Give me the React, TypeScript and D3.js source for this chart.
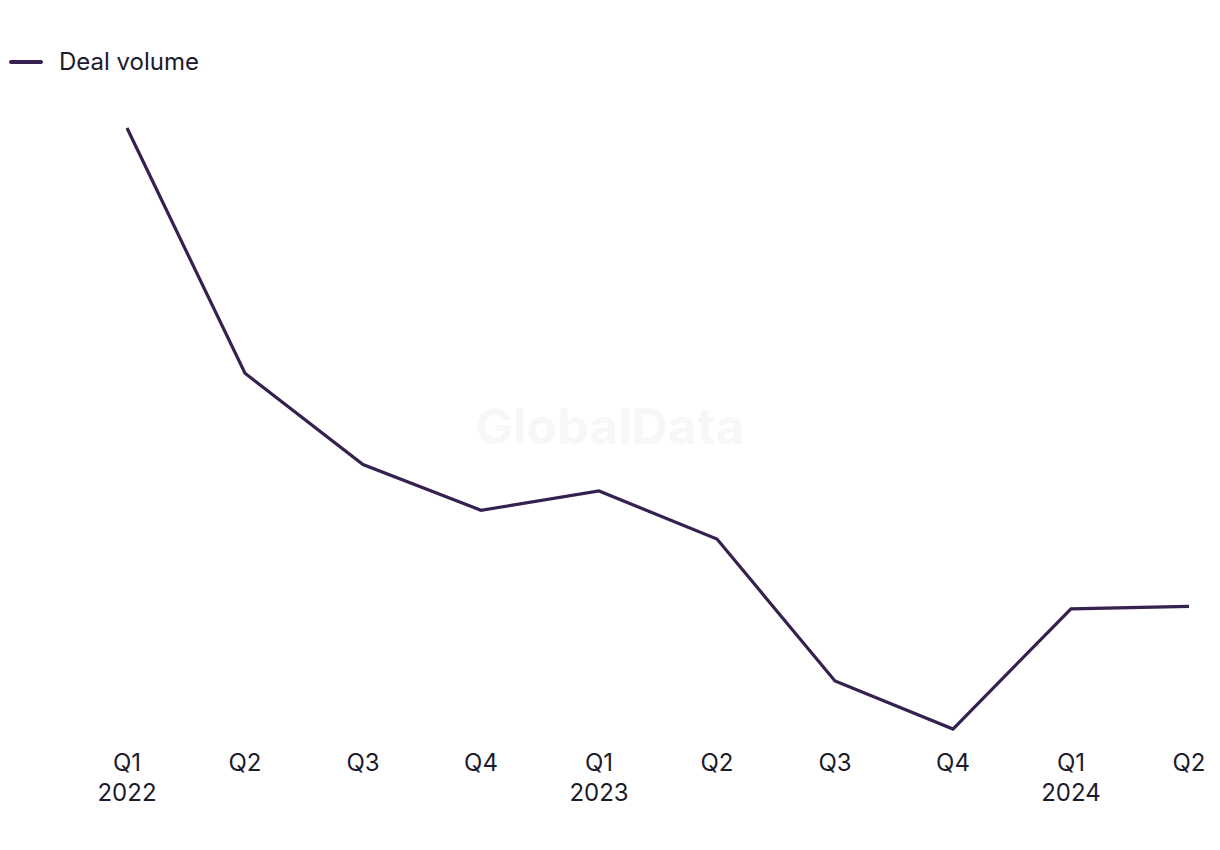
import React from "react";
import * as d3 from "d3";

const quarters = ["Q1", "Q2", "Q3", "Q4", "Q1", "Q2", "Q3", "Q4", "Q1", "Q2"];
const years = ["2022", "", "", "", "2023", "", "", "", "2024", ""];
const dealVolume = [205, 154, 135, 125.5, 129.5, 119.5, 90, 80, 105, 105.5];
const seriesName = "Deal volume";

const W = 1220;
const H = 850;

export default function App() {
  const idx = quarters.map((_, i) => i);
  const x = d3.scalePoint<number>().domain(idx).range([127, 1189]);
  const y = d3.scaleLinear().domain([80, 205]).range([729, 128]);
  const line = d3
    .line<number>()
    .x((_, i) => x(i) as number)
    .y((d) => y(d));
  const font = "Inter, 'Liberation Sans', sans-serif";
  const textColor = "#1c1b2b";
  const lineColor = "#35204f";
  return (
    <svg
      width={W}
      height={H}
      style={{ position: "absolute", left: 0, top: 0, background: "#fff" }}
      fontFamily={font}
    >
      <text
        x={610}
        y={444}
        textAnchor="middle"
        fontSize={50}
        fontWeight={700}
        fill="#f7f7f7"
      >
        GlobalData
      </text>
      <line x1={11} x2={41} y1={62} y2={62} stroke={lineColor} strokeWidth={4} strokeLinecap="round" />
      <text x={59} y={70} fontSize={24} fill={textColor}>
        {seriesName}
      </text>
      <path d={line(dealVolume) || ""} fill="none" stroke={lineColor} strokeWidth={3.2} strokeLinejoin="miter" />
      {idx.map((i) => (
        <g key={i} transform={`translate(${x(i)},0)`}>
          <text y={771} textAnchor="middle" fontSize={24} fill={textColor}>
            {quarters[i]}
          </text>
          {years[i] && (
            <text y={801} textAnchor="middle" fontSize={24} fill={textColor}>
              {years[i]}
            </text>
          )}
        </g>
      ))}
    </svg>
  );
}
